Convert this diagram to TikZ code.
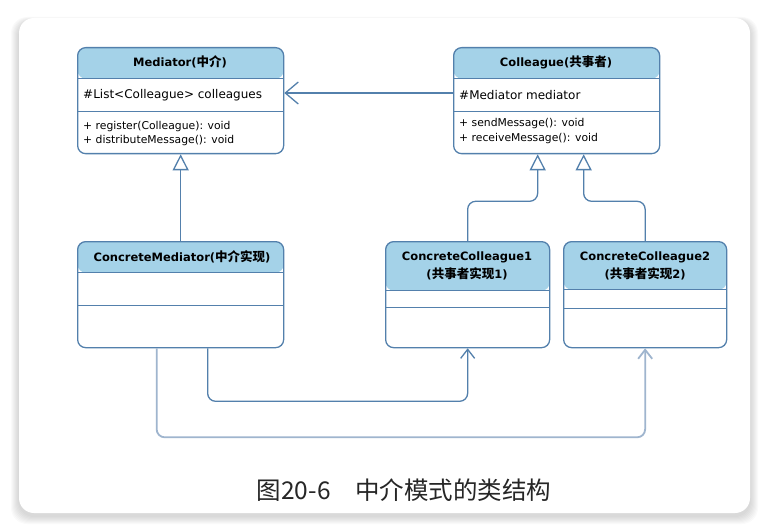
\documentclass[tikz,border=0pt]{standalone}
\usepackage{fontspec}
\setmainfont{DejaVu Sans}
\newfontfamily\cjk{Noto Sans CJK SC}
\usetikzlibrary{arrows.meta,calc}
\definecolor{umlline}{HTML}{5380AC}
\definecolor{umlhead}{HTML}{A4D2E8}
\definecolor{umlsoft}{HTML}{9FB5CE}
\tikzset{
  classbox/.style 2 args={draw=umlline, line width=1.3pt, rounded corners=8pt, fill=white,
    anchor=north west, inner sep=0pt,
    path picture={
      \fill[umlhead] (path picture bounding box.north west) rectangle ([yshift=-#1]path picture bounding box.north east);
      \draw[umlline, line width=1.3pt] ([yshift=-#1]path picture bounding box.north west) -- ([yshift=-#1]path picture bounding box.north east);
      \draw[umlline, line width=1.3pt] ([yshift=-#2]path picture bounding box.north west) -- ([yshift=-#2]path picture bounding box.north east);
    }},
  title/.style={font=\fontsize{11.5}{18}\selectfont\bfseries, align=center, inner sep=0pt},
  member/.style={font=\fontsize{12}{14}\selectfont, anchor=west, inner sep=0pt},
  method/.style={font=\fontsize{10.8}{13}\selectfont, anchor=west, inner sep=0pt},
  inherit/.style={draw=umlline, line width=1.3pt, rounded corners=8pt,
    -{Triangle[open, length=16pt, width=16pt, fill=white]}},
  depend/.style={draw=umlline, line width=1.3pt, rounded corners=8pt,
    -{Straight Barb[length=13pt, width=22pt]}},
}
\newcommand{\zh}[1]{{\cjk\fontsize{12.5}{18}\selectfont #1}}
\begin{document}
\begin{tikzpicture}[x=1pt, y=-1pt]
  \useasboundingbox (0,0) rectangle (766,532);
  % card and its shadow
  \foreach \i in {1,...,8}
    \fill[black, opacity=0.018, rounded corners=16pt] (19-\i,18-\i/2+3) rectangle (750+\i,513+\i+3);
  \fill[white, rounded corners=15pt] (19,18) rectangle (750,513);

  % classes
  \node[classbox={31pt}{64pt}, minimum width=206pt, minimum height=106pt] (med) at (77,47) {};
  \node[classbox={31pt}{64pt}, minimum width=206pt, minimum height=106pt] (col) at (453,47) {};
  \node[classbox={31pt}{64pt}, minimum width=206pt, minimum height=106pt] (cmed) at (77,241) {};
  \node[classbox={49pt}{66pt}, minimum width=164pt, minimum height=106pt] (cc1) at (385,241) {};
  \node[classbox={48pt}{67pt}, minimum width=163pt, minimum height=106pt] (cc2) at (563,241) {};

  \node[title] (medname) at (180,62) {Mediator(\zh{中介})};
  \node[member] (medattr) at (83,95) {\#List<Colleague> colleagues};
  \node[method] (medop1) at (83,127) {+ register(Colleague): void};
  \node[method] (medop2) at (83,141) {+ distributeMessage(): void};

  \node[title] (colname) at (556,62) {Colleague(\zh{共事者})};
  \node[member] (colattr) at (459,95) {\#Mediator mediator};
  \node[method] (colop1) at (459,124) {+ sendMessage(): void};
  \node[method] (colop2) at (459,139) {+ receiveMessage(): void};

  \node[title] (cmedname) at (182,257) {ConcreteMediator(\zh{中介实现})};
  \node[title] (cc1name) at (467,266) {ConcreteColleague1\\(\zh{共事者实现}1)};
  \node[title] (cc2name) at (645,266) {ConcreteColleague2\\(\zh{共事者实现}2)};

  % relations
  \draw[depend] (col.west |- 0,93) -- (med.east |- 0,93);
  \draw[inherit] (cmed.north) -- (med.south);
  \draw[inherit] (cc1.north) |- ($(col.south)+(-19,47)$) -- ([xshift=-19pt]col.south);
  \draw[inherit] (cc2.north) |- ($(col.south)+(27,47)$) -- ([xshift=27pt]col.south);
  \draw[depend, -{Straight Barb[length=9pt, width=14pt]}] ([xshift=27pt]cmed.south) |- ($(cc1.south)+(0,53)$) -- (cc1.south);
  \draw[depend, draw=umlsoft, line width=1.8pt, -{Straight Barb[length=9pt, width=14pt]}]
    ([xshift=-24pt]cmed.south) |- ($(cc2.south)+(0,89)$) -- (cc2.south);

  \node[font=\cjk\fontsize{24.5}{27}\selectfont, text=black!85] (caption) at (404,490) {图20-6\hspace{1em}中介模式的类结构};
\end{tikzpicture}
\end{document}
